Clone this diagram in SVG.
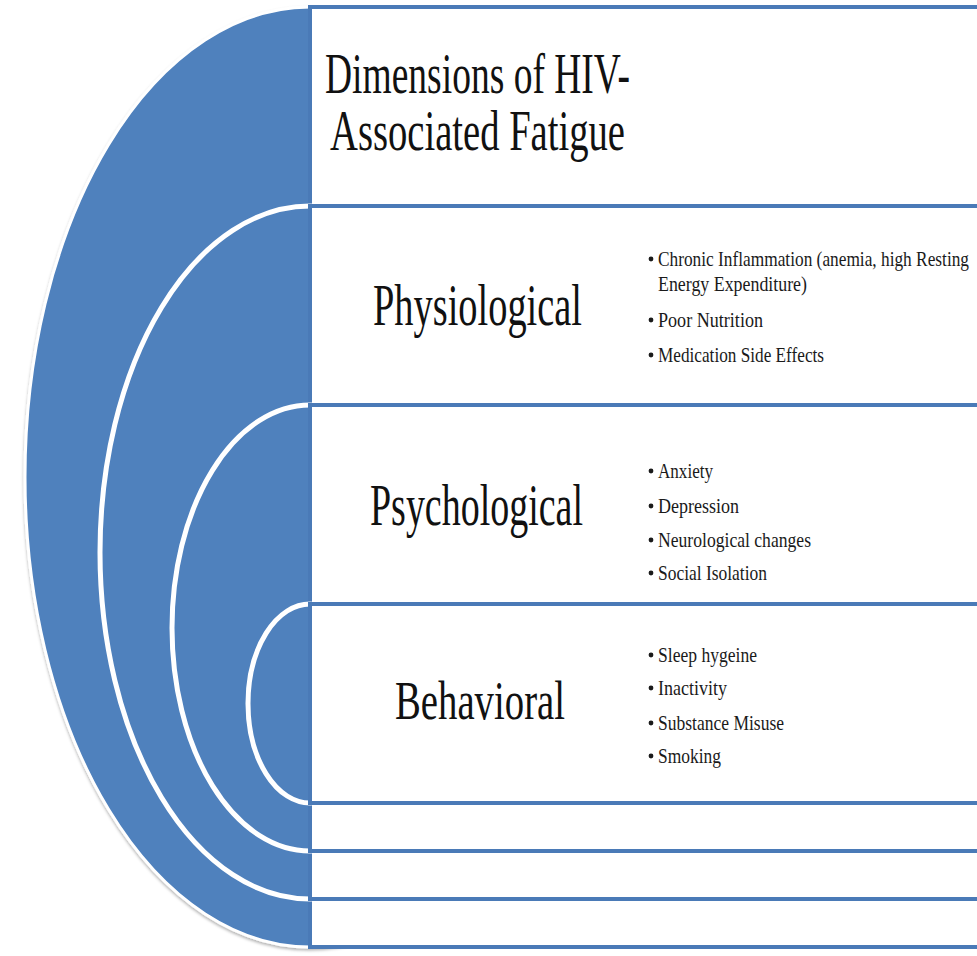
<svg xmlns="http://www.w3.org/2000/svg" width="977" height="956" viewBox="0 0 977 956">
  <defs>
    <filter id="soft-shadow" x="-10%" y="-10%" width="120%" height="120%">
      <feDropShadow dx="0" dy="2" stdDeviation="1.5" flood-color="#000" flood-opacity="0.3"/>
    </filter>
    <style>
      .ring { fill: #4f81bd; stroke: #ffffff; stroke-width: 5; }
      .ring-outer { fill: #4f81bd; stroke: #ffffff; stroke-width: 3; }
      .panel { fill: #ffffff; stroke: #4a7ab7; stroke-width: 4; }
      .head { font-family: "Liberation Serif", "DejaVu Serif", serif; fill: #111111; }
      .item { font-family: "Liberation Serif", "DejaVu Serif", serif; font-size: 21px; fill: #1a1a1a; }
      .dot { fill: #1a1a1a; }
    </style>
  </defs>

  <rect width="977" height="956" fill="#ffffff"/>

  <!-- Level 1: overall title -->
  <g id="node-title">
    <ellipse class="ring-outer" cx="310" cy="477" rx="285" ry="470" filter="url(#soft-shadow)"/>
    <rect class="panel" x="310" y="7" width="700" height="940"/>
    <text class="head" font-size="58" x="325" y="93" textLength="305" lengthAdjust="spacingAndGlyphs">Dimensions of HIV-</text>
    <text class="head" font-size="58" x="330" y="150" textLength="295" lengthAdjust="spacingAndGlyphs">Associated Fatigue</text>
  </g>

  <!-- Level 2: physiological -->
  <g id="node-physiological">
    <ellipse class="ring" cx="310" cy="552.5" rx="210" ry="346.5"/>
    <rect class="panel" x="310" y="206" width="700" height="693"/>
    <text class="head" font-size="60" x="373" y="325" textLength="209" lengthAdjust="spacingAndGlyphs">Physiological</text>
    <circle class="dot" cx="651" cy="259" r="2.4"/>
    <text class="item" x="658" y="266" textLength="311" lengthAdjust="spacingAndGlyphs">Chronic Inflammation (anemia, high Resting</text>
    <text class="item" x="658" y="291" textLength="149" lengthAdjust="spacingAndGlyphs">Energy Expenditure)</text>
    <circle class="dot" cx="651" cy="320" r="2.4"/>
    <text class="item" x="658" y="327" textLength="105" lengthAdjust="spacingAndGlyphs">Poor Nutrition</text>
    <circle class="dot" cx="651" cy="355" r="2.4"/>
    <text class="item" x="658" y="362" textLength="166" lengthAdjust="spacingAndGlyphs">Medication Side Effects</text>
  </g>

  <!-- Level 3: psychological -->
  <g id="node-psychological">
    <ellipse class="ring" cx="310" cy="628" rx="138" ry="223"/>
    <rect class="panel" x="310" y="405" width="700" height="446"/>
    <text class="head" font-size="60" x="370" y="525" textLength="213" lengthAdjust="spacingAndGlyphs">Psychological</text>
    <circle class="dot" cx="651" cy="471" r="2.4"/>
    <text class="item" x="658" y="478" textLength="55" lengthAdjust="spacingAndGlyphs">Anxiety</text>
    <circle class="dot" cx="651" cy="506" r="2.4"/>
    <text class="item" x="658" y="513" textLength="81" lengthAdjust="spacingAndGlyphs">Depression</text>
    <circle class="dot" cx="651" cy="540" r="2.4"/>
    <text class="item" x="658" y="547" textLength="153" lengthAdjust="spacingAndGlyphs">Neurological changes</text>
    <circle class="dot" cx="651" cy="573" r="2.4"/>
    <text class="item" x="658" y="580" textLength="109" lengthAdjust="spacingAndGlyphs">Social Isolation</text>
  </g>

  <!-- Level 4: behavioral -->
  <g id="node-behavioral">
    <ellipse class="ring" cx="310" cy="703.5" rx="62" ry="99.5"/>
    <rect class="panel" x="310" y="604" width="700" height="199"/>
    <text class="head" font-size="55" x="395" y="719" textLength="170" lengthAdjust="spacingAndGlyphs">Behavioral</text>
    <circle class="dot" cx="651" cy="655" r="2.4"/>
    <text class="item" x="658" y="662" textLength="99" lengthAdjust="spacingAndGlyphs">Sleep hygeine</text>
    <circle class="dot" cx="651" cy="688" r="2.4"/>
    <text class="item" x="658" y="695" textLength="69" lengthAdjust="spacingAndGlyphs">Inactivity</text>
    <circle class="dot" cx="651" cy="723" r="2.4"/>
    <text class="item" x="658" y="730" textLength="126" lengthAdjust="spacingAndGlyphs">Substance Misuse</text>
    <circle class="dot" cx="651" cy="756" r="2.4"/>
    <text class="item" x="658" y="763" textLength="63" lengthAdjust="spacingAndGlyphs">Smoking</text>
  </g>
</svg>
